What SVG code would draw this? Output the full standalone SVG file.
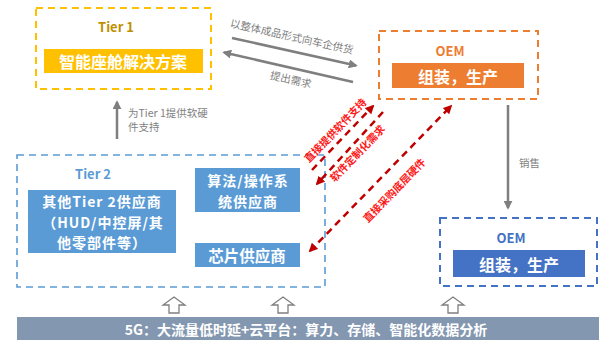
<svg xmlns="http://www.w3.org/2000/svg" width="600" height="340" viewBox="0 0 600 340">
<style>
text{font-family:"Noto Sans CJK SC","Microsoft YaHei",sans-serif;}
.ttl{font-size:13px;font-weight:bold;text-anchor:middle;dominant-baseline:central;}
.w{fill:#fff;font-weight:bold;text-anchor:middle;dominant-baseline:central;}
.m{font-size:14px;letter-spacing:1px;}
.g{fill:#7f7f7f;font-size:10.5px;}
.r{fill:#ff1a1a;font-size:10.5px;font-weight:bold;text-anchor:middle;dominant-baseline:central;}
.ga{stroke:#7f7f7f;stroke-width:2.5;fill:none;}
.ra{stroke:#c00000;stroke-width:2.5;fill:none;stroke-dasharray:7 5;}
.hol{fill:#fff;stroke:#7f7f7f;stroke-width:1.3;}
</style>
<defs>
<marker id="mg" viewBox="0 0 10 10" refX="8" refY="5" markerWidth="3.6" markerHeight="3.6" orient="auto-start-reverse" markerUnits="strokeWidth"><path d="M0,0 L10,5 L0,10 z" fill="#7f7f7f"/></marker>
<marker id="mr" viewBox="0 0 10 10" refX="8" refY="5" markerWidth="3.6" markerHeight="3.6" orient="auto-start-reverse" markerUnits="strokeWidth"><path d="M0,0 L10,5 L0,10 z" fill="#c00000"/></marker>
</defs>

<g id="tier1">
<rect x="36" y="8" width="175" height="81" fill="none" stroke="#ffc000" stroke-width="2" stroke-dasharray="7 5"/>
<text class="ttl" x="116" y="26" fill="#bf9000">Tier 1</text>
<rect x="44" y="49" width="159" height="24" fill="#ffc000"/>
<text class="w" x="123" y="61" font-size="16">智能座舱解决方案</text>
</g>

<g id="oem-top">
<rect x="379" y="31" width="159" height="68" fill="none" stroke="#ed7d31" stroke-width="2" stroke-dasharray="7 5"/>
<text class="ttl" x="450" y="50" fill="#ed7d31">OEM</text>
<rect x="392" y="63" width="132" height="25" fill="#ed7d31"/>
<text class="w" x="458" y="76" font-size="16">组装，生产</text>
</g>

<g id="tier2">
<rect x="17" y="155" width="308" height="132" fill="none" stroke="#5b9bd5" stroke-width="1.6" stroke-dasharray="7 5"/>
<text class="ttl" x="93" y="173" fill="#5b9bd5">Tier 2</text>
</g>

<g id="other-tier2">
<rect x="28" y="190" width="148" height="63" fill="#5b9bd5"/>
<text class="w m" x="102" y="201">其他Tier 2供应商</text>
<text class="w m" x="103" y="221.5">（HUD/中控屏/其</text>
<text class="w m" x="102" y="242">他零部件等）</text>
</g>

<g id="algo">
<rect x="195" y="168" width="105" height="44" fill="#5b9bd5"/>
<text class="w m" x="248" y="180">算法/操作系</text>
<text class="w m" x="248" y="200.5">统供应商</text>
</g>

<g id="chip">
<rect x="195" y="243" width="105" height="24" fill="#5b9bd5"/>
<text class="w" x="247" y="255" font-size="15.5">芯片供应商</text>
</g>

<g id="oem-bottom">
<rect x="440" y="218" width="157" height="68" fill="none" stroke="#4472c4" stroke-width="2" stroke-dasharray="7 5"/>
<text class="ttl" x="511" y="237" fill="#4472c4">OEM</text>
<rect x="453" y="250" width="132" height="27" fill="#4472c4"/>
<text class="w" x="519" y="264" font-size="16">组装，生产</text>
</g>

<g id="platform">
<rect x="17" y="317" width="582" height="23" fill="#8497b0"/>
<text class="w" x="306" y="329" font-size="14">5G：大流量低时延+云平台：算力、存储、智能化数据分析</text>
</g>

<g id="connectors">
<line class="ga" x1="117" y1="139" x2="117" y2="102" marker-end="url(#mg)"/>
<text class="g" x="128" y="117">为Tier 1提供软硬</text>
<text class="g" x="128" y="131">件支持</text>

<line class="ga" x1="232" y1="38" x2="356" y2="65.5" marker-end="url(#mg)"/>
<text class="g" x="292" y="36" text-anchor="middle" dominant-baseline="central" transform="rotate(12.5 292 36)">以整体成品形式向车企供货</text>
<line class="ga" x1="353" y1="82" x2="224" y2="52.5" marker-end="url(#mg)"/>
<text class="g" x="291" y="79" text-anchor="middle" dominant-baseline="central" transform="rotate(12.5 291 79)">提出需求</text>

<line class="ga" x1="508" y1="105" x2="508" y2="208" marker-end="url(#mg)"/>
<text class="g" x="519" y="167">销售</text>

<line class="ra" x1="312" y1="170" x2="373" y2="106" marker-end="url(#mr)"/>
<text class="r" x="335" y="130" transform="rotate(-46 335 130)">直接提供软件支持</text>
<line class="ra" x1="383" y1="112" x2="317" y2="184" marker-end="url(#mr)"/>
<text class="r" x="357" y="153" transform="rotate(-46 357 153)">软件定制化需求</text>
<line class="ra" x1="310" y1="251" x2="451" y2="106" marker-start="url(#mr)" marker-end="url(#mr)"/>
<text class="r" x="394" y="190" transform="rotate(-46 394 190)">直接采购底层硬件</text>

<path class="hol" d="M174,297 L185,305 L179,305 L179,313 L169,313 L169,305 L163,305 Z"/>
<path class="hol" d="M283,297 L294,305 L288,305 L288,313 L278,313 L278,305 L272,305 Z"/>
<path class="hol" d="M453,297 L464,305 L458,305 L458,313 L448,313 L448,305 L442,305 Z"/>
</g>
</svg>
